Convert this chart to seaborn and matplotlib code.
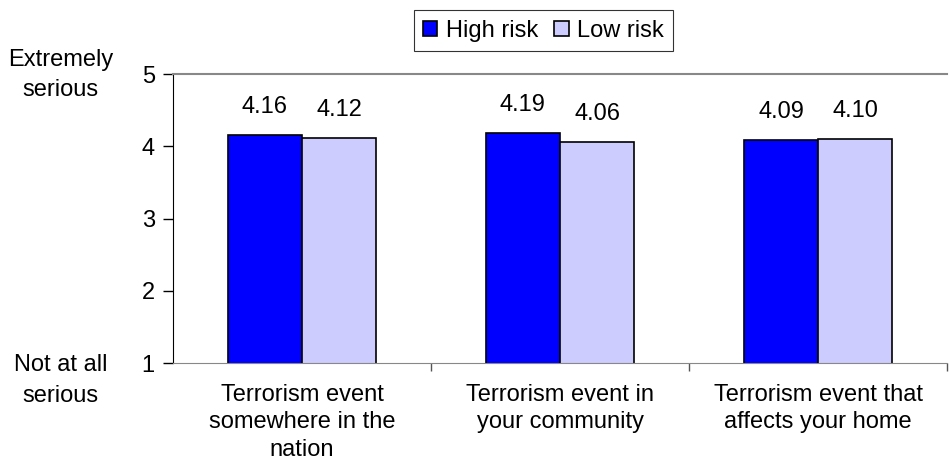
import pandas as pd
import matplotlib
matplotlib.use('Agg')
import matplotlib.pyplot as plt
import seaborn as sns

categories = ['Terrorism event\nsomewhere in the\nnation',
              'Terrorism event in\nyour community',
              'Terrorism event that\naffects your home']
high_risk = [4.16, 4.19, 4.09]
low_risk = [4.12, 4.06, 4.10]
groups = ['High risk', 'Low risk']
colors = ['#0000FF', '#CCCCFF']

df = pd.DataFrame({
    'event': categories * 2,
    'group': [groups[0]] * 3 + [groups[1]] * 3,
    'score': high_risk + low_risk,
})

sns.set_style('white')
plt.rcParams['font.family'] = ['Liberation Sans', 'DejaVu Sans']
plt.rcParams['text.color'] = 'black'
plt.rcParams['xtick.color'] = 'black'
plt.rcParams['ytick.color'] = 'black'
plt.rcParams['xtick.labelcolor'] = 'black'
plt.rcParams['ytick.labelcolor'] = 'black'

FS = 17

fig = plt.figure(figsize=(9.5, 4.66), dpi=100)
ax = fig.add_axes([0.182, 0.221, 0.815, 0.620])

sns.barplot(data=df, x='event', y='score', hue='group', palette=colors,
            width=0.575, edgecolor='black', linewidth=1.2, ax=ax,
            saturation=1)

for cont in ax.containers:
    ax.bar_label(cont, fmt='%.2f', padding=12, fontsize=FS)

ax.set_ylim(1, 5)
ax.set_xlim(-0.5, 2.5)
ax.set_yticks([1, 2, 3, 4, 5])
ax.set_xticks([0, 1, 2])
ax.set_xticklabels(categories, fontsize=FS, linespacing=1.32)
ax.tick_params(axis='y', labelsize=FS, length=7, width=1, direction='out', left=True, pad=6)
ax.tick_params(axis='x', length=0, pad=15)
# ticks between categories
ax.set_xticks([0.5, 1.5, 2.5], minor=True)
ax.tick_params(axis='x', which='minor', length=6, width=1, color='#555555', direction='out', bottom=True)
ax.set_xlabel('')
ax.set_ylabel('')

ax.spines['left'].set_color('black')
ax.spines['bottom'].set_color('#888888')
ax.spines['top'].set_color('#888888')
ax.spines['top'].set_linewidth(1.5)
ax.spines['right'].set_visible(False)

fig.text(0.064, 0.839, 'Extremely\nserious', ha='center', va='center', fontsize=FS, linespacing=1.5)
fig.text(0.064, 0.184, 'Not at all\nserious', ha='center', va='center', fontsize=FS, linespacing=1.5)

leg = ax.legend(loc='center', bbox_to_anchor=(0.572, 0.934), bbox_transform=fig.transFigure,
                ncol=2, frameon=True, fontsize=FS, handlelength=0.6, handleheight=0.6,
                columnspacing=0.7, handletextpad=0.35, borderpad=0.4, borderaxespad=0,
                fancybox=False)
leg.get_frame().set_edgecolor('black')
leg.get_frame().set_linewidth(0.8)

fig.savefig('out.png', dpi=100)
